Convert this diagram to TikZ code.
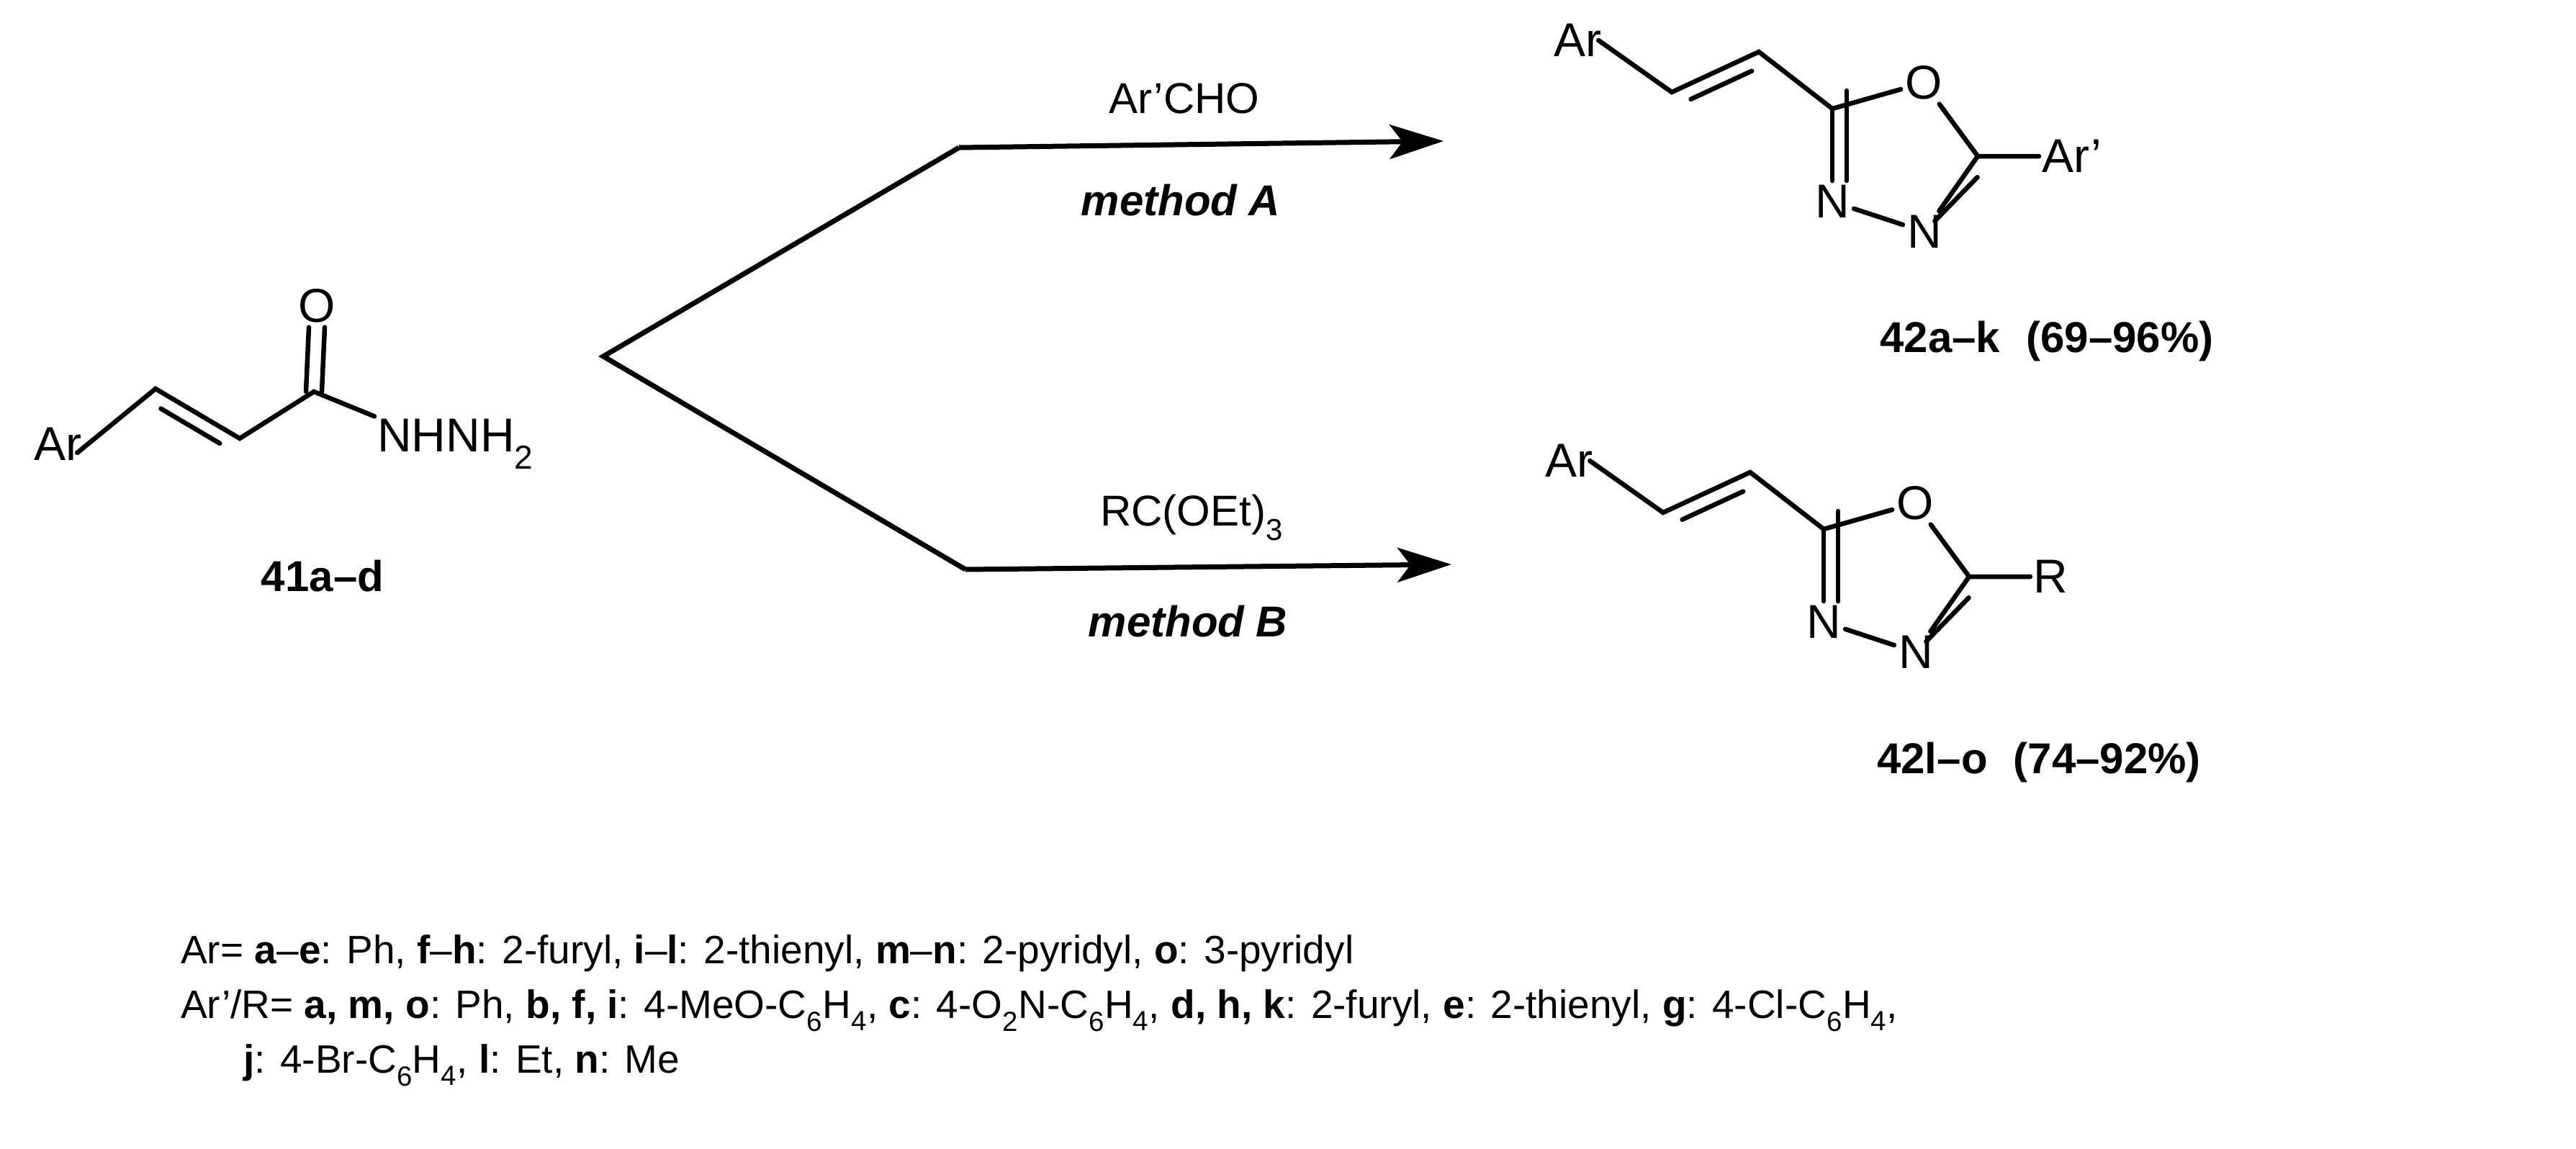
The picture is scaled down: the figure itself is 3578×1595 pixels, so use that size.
\documentclass[tikz,border=0pt]{standalone}
\usepackage{fontspec}
\setmainfont{Liberation Sans}
\usetikzlibrary{calc,arrows.meta}
\tikzset{
  bond/.style={line width=6.5pt,line cap=round},
  atom/.style={inner sep=6pt,font=\fontsize{66}{76}\selectfont},
  lbl/.style={inner sep=0pt,font=\fontsize{60}{70}\selectfont\bfseries},
  cond/.style={inner sep=0pt,font=\fontsize{60}{70}\selectfont},
  legend/.style={inner sep=0pt,anchor=base west,font=\fontsize{55}{65}\selectfont},
  rxn/.style={line width=7pt,-{Stealth[length=75pt,width=48pt,inset=18pt]}},
}
\newcommand{\innerbond}[3]{%
  \draw[bond] ($(#1)!0.15!(#2)!20pt!#3:(#2)$) -- ($(#2)!0.15!(#1)!20pt!-#3:(#1)$);}
\newcommand{\oxaprod}[2]{% prefix, substituent
  \node[atom] (#1ar) at (2191,56) {Ar};
  \coordinate (#1a) at (2322,128);
  \coordinate (#1b) at (2443,72);
  \coordinate (#1c5) at (2545,151);
  \node[atom] (#1o) at (2672,115) {O};
  \coordinate (#1c2) at (2747,217);
  \node[atom,anchor=west,inner sep=4pt] (#1r) at (2832,217) {#2};
  \node[atom] (#1n3) at (2673,322) {N};
  \node[atom] (#1n4) at (2545,280) {N};
  \draw[bond] (#1ar.east) ++(-10pt,0) -- (#1a) -- (#1b) -- (#1c5) -- (#1o);
  \draw[bond] (#1o) -- (#1c2) -- (#1r.west);
  \draw[bond] (#1c2) -- (#1n3);
  \draw[bond] (#1n3) -- (#1n4);
  \draw[bond] (#1n4) -- (#1c5);
  \innerbond{#1a}{#1b}{-90}
  \draw[bond] ($(#1c5)+(20pt,25pt)$) -- ($(#1n4.north)+(20pt,0)$);
  \draw[bond] ($(#1c2)!0.2!(#1n3.north)!20pt!90:(#1n3.north)$) -- ($(#1n3.north)!0.0!(#1c2)!20pt!-90:(#1c2)$);
}
\begin{document}
\begin{tikzpicture}[x=1pt,y=-1pt]
\useasboundingbox (0,0) rectangle (3578,1595);
% starting material
\node[atom] (ar0) at (80,617) {Ar};
\coordinate (s1) at (216,540);
\coordinate (s2) at (333,609);
\coordinate (s3) at (436,544);
\node[atom] (o0) at (440,425) {O};
\node[atom,anchor=west,inner sep=4pt] (nh) at (520,617) {NHNH\textsubscript{2}};
\draw[bond] ($(ar0.east)+(-12pt,-12pt)$) -- (s1) -- (s2) -- (s3) -- (nh.north west);
\innerbond{s1}{s2}{-90}
\draw[bond] ($(s3)+(-11pt,0)$) -- ($(o0.south)+(-11pt,0)$);
\draw[bond] ($(s3)+(11pt,0)$) -- ($(o0.south)+(11pt,0)$);
\node[lbl] (l41) at (448,800) {41a–d};
% branches
\coordinate (apex) at (838,495);
\coordinate (k1) at (1332,205);
\coordinate (k2) at (1341,791);
\coordinate (t1) at (2005,196);
\coordinate (t2) at (2016,784);
\draw[line width=7pt,line join=miter] (k1) -- (apex) -- (k2);
\draw[rxn] (k1) -- (t1);
\draw[rxn] (k2) -- (t2);
\node[cond] (c1) at (1645,137) {Ar'CHO};
\node[cond] (m1) at (1640,278) {\bfseries\itshape method A};
\node[cond] (c2) at (1655,719) {RC(OEt)\textsubscript{3}};
\node[cond] (m2) at (1650,863) {\bfseries\itshape method B};
% products
\oxaprod{p}{Ar'}
\node[lbl] (l42a) at (2843,474) {42a–k\hspace{0.6em}(69–96\%)};
\begin{scope}[shift={(-12,584)}]
\oxaprod{q}{R}
\end{scope}
\node[lbl] (l42b) at (2832,1059) {42l–o\hspace{0.6em}(74–92\%)};
% legend
\node[legend] (lg1) at (251,1338) {Ar= \textbf{a}–\textbf{e}: Ph, \textbf{f}–\textbf{h}: 2-furyl, \textbf{i}–\textbf{l}: 2-thienyl, \textbf{m}–\textbf{n}: 2-pyridyl, \textbf{o}: 3-pyridyl};
\node[legend] (lg2) at (251,1414) {Ar'/R= \textbf{a, m, o}: Ph, \textbf{b, f, i}: 4-MeO-C\textsubscript{6}H\textsubscript{4}, \textbf{c}: 4-O\textsubscript{2}N-C\textsubscript{6}H\textsubscript{4}, \textbf{d, h, k}: 2-furyl, \textbf{e}: 2-thienyl, \textbf{g}: 4-Cl-C\textsubscript{6}H\textsubscript{4},};
\node[legend] (lg3) at (338,1490) {\textbf{j}: 4-Br-C\textsubscript{6}H\textsubscript{4}, \textbf{l}: Et, \textbf{n}: Me};
\end{tikzpicture}
\end{document}
